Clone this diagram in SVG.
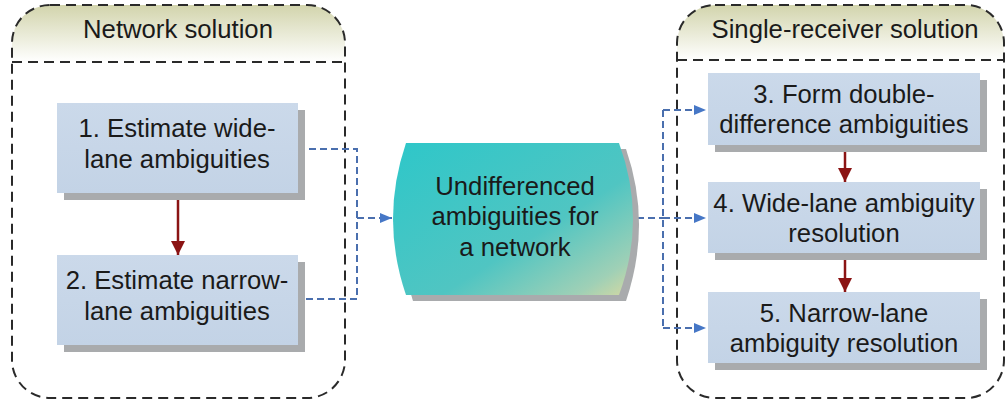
<svg xmlns="http://www.w3.org/2000/svg" width="1006" height="408" viewBox="0 0 1006 408">
<style>
.txt{font-family:"Liberation Sans",Arial,sans-serif;font-size:25.7px;fill:#1a1a1a;text-anchor:middle}
.cont{fill:none;stroke:#2a2a2a;stroke-width:2;stroke-dasharray:10,6}
.hdr{fill:url(#hg)}
.box{fill:url(#bg)}
.shadow{fill:#a9abad}
.blue{fill:none;stroke:#4a6fae;stroke-width:2;stroke-dasharray:7,4}
.red{fill:none;stroke:#8b1414;stroke-width:2.5}
</style>
<defs>
<linearGradient id="hg" x1="0" y1="0" x2="0" y2="1">
<stop offset="0" stop-color="#d2d4ac"/>
<stop offset="1" stop-color="#ffffff"/>
</linearGradient>
<linearGradient id="bg" x1="0" y1="0" x2="0" y2="1">
<stop offset="0" stop-color="#cbd9ea"/>
<stop offset="1" stop-color="#c3d3e6"/>
</linearGradient>
<linearGradient id="cg" x1="0" y1="0" x2="1" y2="1">
<stop offset="0" stop-color="#2ec7c9"/>
<stop offset="0.6" stop-color="#50c5c2"/>
<stop offset="0.88" stop-color="#9fd0b6"/>
<stop offset="1" stop-color="#d6d9a2"/>
</linearGradient>
<marker id="ab" viewBox="0 0 12 10" refX="12" refY="5" markerWidth="12" markerHeight="10" markerUnits="userSpaceOnUse" orient="auto">
<path d="M0,0 L12,5 L0,10 Z" fill="#4677c6"/>
</marker>
<marker id="ar" viewBox="0 0 14 14" refX="14" refY="7" markerWidth="14" markerHeight="14" markerUnits="userSpaceOnUse" orient="auto">
<path d="M0,0 L14,7 L0,14 Z" fill="#8b1414"/>
</marker>
</defs>

<g id="network-solution">
<path class="hdr" d="M12,62 V43 A38,38 0 0 1 50,5 H307 A38,38 0 0 1 345,43 V62 Z"/>
<rect class="cont" x="12" y="5" width="333" height="393" rx="38" ry="38"/>
<line class="cont" x1="12" y1="62" x2="345" y2="62"/>
<text class="txt" x="178" y="38">Network solution</text>
</g>

<g id="single-receiver-solution">
<path class="hdr" d="M677,60 V43 A38,38 0 0 1 715,5 H966 A38,38 0 0 1 1004,43 V60 Z"/>
<rect class="cont" x="677" y="5" width="327" height="393" rx="38" ry="38"/>
<line class="cont" x1="677" y1="60" x2="1004" y2="60"/>
<text class="txt" x="845" y="38">Single-receiver solution</text>
</g>

<g id="connectors">
<polyline class="blue" points="298,149 357,149 357,299 298,299"/>
<line class="blue" x1="357" y1="218" x2="392" y2="218" marker-end="url(#ab)"/>
<line class="blue" x1="637" y1="218" x2="663" y2="218"/>
<line class="blue" x1="663" y1="110" x2="663" y2="328"/>
<line class="blue" x1="663" y1="110" x2="706" y2="110" marker-end="url(#ab)"/>
<line class="blue" x1="663" y1="218" x2="706" y2="218" marker-end="url(#ab)"/>
<line class="blue" x1="663" y1="328" x2="706" y2="328" marker-end="url(#ab)"/>
<line class="red" x1="178" y1="193" x2="178" y2="255" marker-end="url(#ar)"/>
<line class="red" x1="845" y1="152" x2="845" y2="182" marker-end="url(#ar)"/>
<line class="red" x1="845" y1="260" x2="845" y2="292" marker-end="url(#ar)"/>
</g>

<g id="n1">
<rect class="shadow" x="64" y="110" width="241" height="90"/>
<rect class="box" x="57" y="103" width="241" height="90"/>
<text class="txt" x="177" y="137">1. Estimate wide-</text>
<text class="txt" x="177" y="168">lane ambiguities</text>
</g>

<g id="n2">
<rect class="shadow" x="64" y="262" width="241" height="90"/>
<rect class="box" x="57" y="255" width="241" height="90"/>
<text class="txt" x="177" y="289">2. Estimate narrow-</text>
<text class="txt" x="177" y="320">lane ambiguities</text>
</g>

<g id="center">
<path class="shadow" d="M413,149 H626 Q652,224 626,301 H413 Q388,224 413,149 Z"/>
<path fill="url(#cg)" d="M406,143 H619 Q647,219 619,295 H406 Q380,219 406,143 Z"/>
<text class="txt" x="515" y="195">Undifferenced</text>
<text class="txt" x="515" y="225">ambiguities for</text>
<text class="txt" x="515" y="256">a network</text>
</g>

<g id="n3">
<rect class="shadow" x="715" y="80" width="272" height="72"/>
<rect class="box" x="708" y="73" width="272" height="72"/>
<text class="txt" x="844" y="103">3. Form double-</text>
<text class="txt" x="844" y="133">difference ambiguities</text>
</g>

<g id="n4">
<rect class="shadow" x="715" y="189" width="272" height="71"/>
<rect class="box" x="708" y="182" width="272" height="71"/>
<text class="txt" x="844" y="212">4. Wide-lane ambiguity</text>
<text class="txt" x="844" y="242">resolution</text>
</g>

<g id="n5">
<rect class="shadow" x="715" y="299" width="272" height="71"/>
<rect class="box" x="708" y="292" width="272" height="71"/>
<text class="txt" x="844" y="322">5. Narrow-lane</text>
<text class="txt" x="844" y="352">ambiguity resolution</text>
</g>
</svg>
